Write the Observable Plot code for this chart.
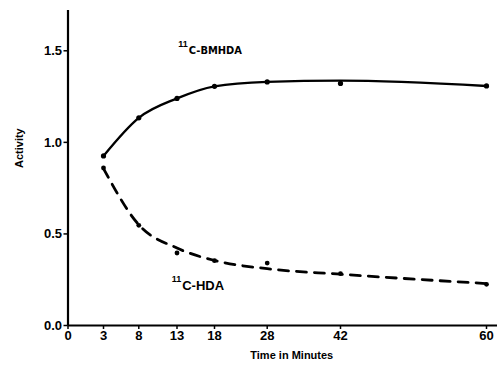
<!DOCTYPE html>
<html>
<head>
<meta charset="utf-8">
<script src="https://cdn.jsdelivr.net/npm/d3@7"></script>
<script src="https://cdn.jsdelivr.net/npm/@observablehq/plot@0.6"></script>
<style>
  html, body { margin: 0; padding: 0; background: #fff; }
</style>
</head>
<body>
<div id="chart"></div>
<script>
// ---- data ----
const times = [3, 8, 13, 18, 28, 42, 60];
const bmhdaPoints = [0.926, 1.134, 1.240, 1.306, 1.330, 1.322, 1.308];
const hdaPoints = [0.86, 0.547, 0.396, 0.354, 0.341, 0.283, 0.225];
// hand-drawn smooth curves, read at the same times
const bmhdaCurve = [0.926, 1.134, 1.240, 1.306, 1.330, 1.337, 1.308];
const hdaCurve = [0.857, 0.55, 0.423, 0.355, 0.31, 0.28, 0.229];
const xTicks = [0, 3, 8, 13, 18, 28, 42, 60];
const yTicks = [0, 0.5, 1.0, 1.5];
const seriesNames = ["C-BMHDA", "C-HDA"];
const isotope = "11";
const labelX = [14.57, 13.69];
const labelY = [1.500, 0.218];

// The original's time axis is not uniform: a piecewise warp of the time axis
const warp = d3.scaleLinear()
  .domain([0, 3, 8, 13, 18, 28, 42, 60, 61.4])
  .range([0, 35.5, 70.8, 109, 146.5, 199.2, 272.5, 418.5, 429.5]);

const pts = (vals) => times.map((t, i) => ({t: warp(t), v: vals[i]}));
const labels = seriesNames.map((s, i) => ({s, x: warp(labelX[i]), y: labelY[i]}));

const font = "'Liberation Sans', Arial, sans-serif";

const chart = Plot.plot({
  width: 500,
  height: 366,
  marginTop: 10,
  marginBottom: 41,
  marginLeft: 67.5,
  marginRight: 3,
  style: {fontFamily: font, fontWeight: "bold", fontSize: "13px", color: "#000", background: "#fff"},
  x: {domain: [0, 429.5]},
  y: {domain: [0, 1.72]},
  marks: [
    Plot.axisY({ticks: yTicks, tickFormat: d3.format(".1f"), tickSize: 4, tickPadding: 2, label: null, fontSize: 13, fontWeight: "bold", strokeWidth: 1.5}),
    Plot.axisX({ticks: xTicks.map(warp), tickFormat: d => String(Math.round(warp.invert(d))), tickSize: 4, tickPadding: 1, label: null, fontSize: 13, fontWeight: "bold", strokeWidth: 1.5}),
    Plot.ruleX([0], {strokeWidth: 2.2}),
    Plot.ruleY([0], {strokeWidth: 2.2}),
    Plot.line(pts(bmhdaCurve), {x: "t", y: "v", curve: "monotone-x", strokeWidth: 2.4, stroke: "#000"}),
    Plot.line(pts(hdaCurve), {x: "t", y: "v", curve: "monotone-x", strokeWidth: 2.8, stroke: "#000", strokeDasharray: "10,8"}),
    Plot.dot(pts(bmhdaPoints), {x: "t", y: "v", r: 2.6, fill: "#000"}),
    Plot.dot(pts(hdaPoints), {x: "t", y: "v", r: 2.4, fill: "#000"}),
    // series labels: main text plus raised isotope number
    Plot.text(labels.slice(0, 1), {x: "x", y: "y", text: "s", textAnchor: "start", fontFamily: "'Liberation Sans Narrow', 'DejaVu Sans Condensed', sans-serif", fontWeight: "bold", fontSize: 11}),
    Plot.text(labels.slice(1), {x: "x", y: "y", text: "s", textAnchor: "start", fontFamily: font, fontWeight: "bold", fontSize: 13}),
    Plot.text(labels.slice(0, 1), {x: "x", y: "y", text: () => isotope, textAnchor: "end", dx: -1, dy: -7, fontFamily: font, fontWeight: "bold", fontSize: 9}),
    Plot.text(labels.slice(1), {x: "x", y: "y", text: () => isotope, textAnchor: "end", dx: -1, dy: -6.5, fontFamily: font, fontWeight: "bold", fontSize: 9}),
    Plot.text(["Time in Minutes"], {frameAnchor: "bottom", dx: 9, dy: 33, fontSize: 11, fontWeight: "bold"}),
    Plot.text(["Activity"], {frameAnchor: "left", dx: -49, rotate: -90, fontSize: 11, fontWeight: "bold"})
  ]
});
document.getElementById("chart").appendChild(chart);
</script>
</body>
</html>
